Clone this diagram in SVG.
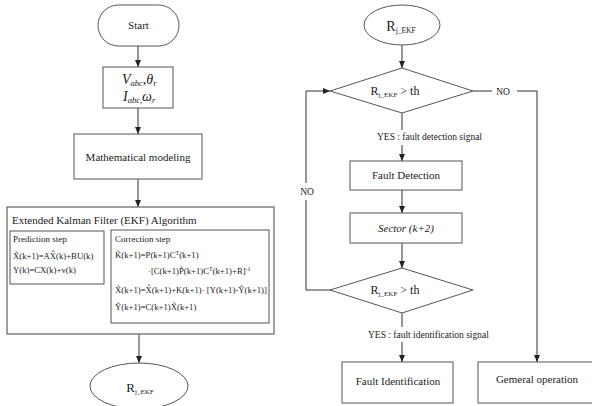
<svg xmlns="http://www.w3.org/2000/svg" width="592" height="406" viewBox="0 0 592 406">
<defs>
<marker id="ah" markerUnits="userSpaceOnUse" markerWidth="7" markerHeight="6" refX="7" refY="3" orient="auto">
<path d="M0,0 L7,3 L0,6 z" fill="#222"/>
</marker>
<style>
.box{fill:#fff;stroke:#555;stroke-width:1}
.outer{fill:#fff;stroke:#777;stroke-width:1.4}
.t{font-family:"Liberation Serif","Times New Roman",serif;fill:#222}
.c{stroke:#333;stroke-width:1;fill:none}
.a{marker-end:url(#ah)}
.m{font-size:11px}
.f{font-size:8.7px}
.s{font-size:9px}
.l{font-size:9.5px}
</style>
</defs>
<rect width="592" height="406" fill="#fff"/>

<g id="connectors">
<line class="c a" x1="138" y1="46" x2="138" y2="67"/>
<line class="c a" x1="138" y1="108" x2="138" y2="134"/>
<line class="c a" x1="138" y1="179" x2="138" y2="207"/>
<line class="c a" x1="139" y1="334" x2="139" y2="363"/>
<line class="c a" x1="402" y1="45" x2="402" y2="68"/>
<line class="c" x1="402" y1="113" x2="402" y2="130"/>
<line class="c a" x1="402" y1="145" x2="402" y2="161"/>
<line class="c a" x1="402" y1="190" x2="402" y2="213"/>
<line class="c a" x1="402" y1="243" x2="402" y2="268"/>
<line class="c" x1="402" y1="313" x2="402" y2="327"/>
<line class="c a" x1="402" y1="342" x2="402" y2="362"/>
<polyline class="c" points="330,290 306,290 306,200"/>
<polyline class="c a" points="306,183 306,91 330,91"/>
<line class="c" x1="473" y1="91" x2="492" y2="91"/>
<polyline class="c a" points="517,91 537,91 537,362"/>
<text class="t l" x="307" y="195" text-anchor="middle">NO</text>
<text class="t l" x="503" y="94.5" text-anchor="middle">NO</text>
<text class="t l" x="377" y="140">YES : fault detection signal</text>
<text class="t l" x="368" y="337.5">YES : fault identification signal</text>
</g>

<g id="start">
<rect class="box" x="98" y="5" width="81" height="41" rx="20.5"/>
<text class="t m" x="138.5" y="29" text-anchor="middle">Start</text>
</g>

<g id="inputs">
<rect class="box" x="103" y="67" width="70" height="41"/>
<text class="t" x="122" y="84" font-size="14" font-style="italic">V<tspan font-size="8.5" dy="2">abc</tspan><tspan dy="-2">,θ</tspan><tspan font-size="8.5" dy="2">r</tspan></text>
<text class="t" x="123" y="101" font-size="14" font-style="italic">I<tspan font-size="8.5" dy="2">abc,</tspan><tspan dy="-2">ω</tspan><tspan font-size="8.5" dy="2">r</tspan></text>
</g>

<g id="modeling">
<rect class="box" x="74" y="134" width="128" height="45"/>
<text class="t m" x="138" y="160.5" text-anchor="middle">Mathematical modeling</text>
</g>

<g id="ekf">
<rect class="outer" x="7" y="207" width="267" height="127"/>
<text class="t m" x="12" y="224">Extended Kalman Filter (EKF) Algorithm</text>
<g id="prediction">
<rect class="box" x="10" y="231" width="94" height="53"/>
<text class="t s" x="13" y="242">Prediction step</text>
<text class="t f" x="13" y="258.5">X&#x303;(k+1)=AX&#x302;(k)+BU(k)</text>
<text class="t f" x="13" y="273">Y(k)=CX(k)+v(k)</text>
</g>
<g id="correction">
<rect class="box" x="111" y="230" width="158" height="93"/>
<text class="t s" x="115" y="242">Correction step</text>
<text class="t f" x="115" y="258">K&#x303;(k+1)=P(k+1)C<tspan font-size="6" dy="-3.5">T</tspan><tspan dy="3.5">(k+1)</tspan></text>
<text class="t f" x="148" y="274">·[C(k+1)P&#x303;(k+1)C<tspan font-size="6" dy="-3.5">T</tspan><tspan dy="3.5">(k+1)+R]</tspan><tspan font-size="6" dy="-3.5">-1</tspan></text>
<text class="t f" x="115" y="293">X&#x303;(k+1)=X&#x302;(k+1)+K(k+1)· [Y(k+1)-Y&#x302;(k+1)]</text>
<text class="t f" x="115" y="310">Y&#x302;(k+1)=C(k+1)X&#x303;(k+1)</text>
</g>
</g>

<g id="rjekf-left">
<ellipse class="box" cx="139" cy="386" rx="49" ry="23"/>
<text class="t" x="140" y="392" font-size="13" text-anchor="middle">R<tspan font-size="7" dy="2">j_EKF</tspan></text>
</g>

<g id="rjekf-right">
<ellipse class="box" cx="402" cy="25" rx="38" ry="20"/>
<text class="t" x="401" y="31" font-size="14" text-anchor="middle">R<tspan font-size="7.5" dy="2">j_EKF</tspan></text>
</g>

<g id="decision1">
<polygon class="box" points="402,68 473,91 402,113 330,91"/>
<text class="t" x="395" y="95" font-size="12" text-anchor="middle">R<tspan font-size="7" dy="2">j_EKF</tspan><tspan dy="-2"> &gt; th</tspan></text>
</g>

<g id="fault-detection">
<rect class="box" x="350" y="161" width="112" height="29"/>
<text class="t m" x="406" y="179" text-anchor="middle">Fault Detection</text>
</g>

<g id="sector">
<rect class="box" x="350" y="213" width="112" height="30"/>
<text class="t m" x="406" y="231.5" text-anchor="middle" font-style="italic">Sector (k+2)</text>
</g>

<g id="decision2">
<polygon class="box" points="402,268 473,290 402,313 330,290"/>
<text class="t" x="395" y="294" font-size="12" text-anchor="middle">R<tspan font-size="7" dy="2">j_EKF</tspan><tspan dy="-2"> &gt; th</tspan></text>
</g>

<g id="fault-identification">
<rect class="box" x="342" y="362" width="111" height="41"/>
<text class="t m" x="398" y="385" text-anchor="middle">Fault Identification</text>
</g>

<g id="general-operation">
<rect class="box" x="478" y="362" width="118" height="41"/>
<text class="t m" x="537" y="383" text-anchor="middle">Gemeral operation</text>
</g>
</svg>
